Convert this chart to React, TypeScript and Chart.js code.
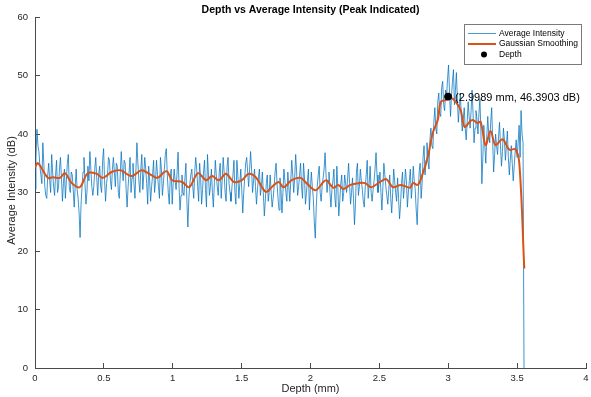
import React, { useEffect, useRef } from "react";
import { Chart, registerables } from "chart.js";

Chart.register(...registerables);

// ---------- data ----------
const DEPTH_STEP_MM = 3.55 / 499; // sampling step of the raw profile

const rawIntensity: number[] = [
  30.5, 36, 40.8, 38, 37, 34.5, 33, 31.5, 38.5, 35, 31, 29.5, 29, 33, 35, 32, 30, 36.5, 33.5, 31,
  29.5, 33, 35.5, 30, 31, 34, 36, 32.5, 28.5, 31.5, 34, 29, 32, 35, 36.5, 31, 30, 33.5, 33, 30.5,
  27.5, 31, 34, 30.5, 29, 26.5, 22.3, 28, 31, 33.5, 36, 31.5, 28, 30, 34.5, 32, 37, 34, 31, 29.5,
  31, 34, 36, 32.5, 29.5, 33, 34.5, 31, 30, 35.5, 37.5, 32, 28.5, 31.5, 33, 36, 35.5, 32, 30.5, 34,
  36, 33.5, 31, 35, 34.5, 30, 29, 33, 37, 34, 32, 35.5, 35, 30.5, 27.5, 31, 33.5, 36, 30, 32.5,
  35, 31.5, 29, 34, 38.5, 35, 32, 30, 34, 36.5, 30.5, 33, 36, 34, 31.5, 28, 34.5, 32, 28.5, 31,
  33, 35.5, 30, 32, 35.5, 33, 31, 29, 36, 34, 29.5, 31.5, 34, 36.5, 37.5, 33, 30, 28, 32.5, 34,
  28, 31.5, 34, 32, 30.5, 33.5, 36.9, 31, 27, 29.5, 33, 30, 29.5, 32.5, 35, 28.5, 24.1, 29, 31.5, 33,
  34, 31, 29, 33.5, 36, 34, 31, 28.5, 35, 32.5, 28, 30.5, 33.5, 35.5, 30.5, 27.5, 36.5, 33, 29.5, 31,
  34, 30, 27.5, 31.5, 35.5, 33, 31, 29.5, 33.5, 35, 29, 32, 36, 33.5, 30, 28.5, 34.5, 36, 31.5, 30,
  28.5, 31, 33, 35.5, 30, 28, 35.5, 33, 29, 31.5, 34, 30.5, 26.5, 30, 32.5, 35, 36, 33.5, 31, 34,
  37, 34, 30, 32, 34, 31, 28, 30.5, 32.5, 34, 29.5, 31, 33.5, 30, 26, 28.5, 31.5, 33, 28.5, 30,
  33, 30, 27.5, 29, 31, 33.5, 35, 31.5, 29, 27, 32.5, 30.5, 26.5, 30, 34, 32, 30, 28.5, 33.5, 31,
  28.5, 32, 35.5, 33, 30, 32.5, 36.5, 33.5, 29.5, 31, 33, 35, 31, 29, 35, 32.5, 28, 30, 32, 34,
  27, 30.5, 33.5, 31, 29, 25, 22.2, 27.5, 31, 33, 34.5, 30, 28.5, 31, 32.5, 34, 36.8, 33, 30, 32,
  33.5, 30, 27.5, 30.5, 32, 34, 29, 27.5, 34.5, 31, 26, 28.5, 31.5, 33, 28.5, 30, 33, 31.5, 30, 32.5,
  35, 31.5, 28, 30, 32.5, 29, 24.5, 28, 33.5, 35, 29.5, 31, 34, 32, 30.5, 28.5, 27.5, 31, 33, 35.5,
  29, 31.5, 34.5, 30, 28.5, 30.5, 32, 34, 36.8, 33, 30, 31.5, 33.5, 30, 27, 31, 35, 33, 31, 29.5,
  28, 30.5, 33, 29, 26.5, 30, 34, 32, 30, 28.5, 32.5, 29, 25.5, 28, 31.5, 33.5, 29, 31, 34, 32,
  27.5, 30, 32, 34, 29, 31, 34.5, 32, 30.5, 27, 24.5, 29.5, 33.5, 35, 29, 31.5, 36, 38, 33, 35.5,
  38.5, 35.5, 34, 39, 41, 38, 37.5, 42, 44.5, 41, 40, 45.5, 47, 43.5, 43, 48, 49, 45, 44, 47.5,
  46.4, 49.5, 51.8, 47, 43, 46.5, 49, 51, 45, 47.5, 50.5, 46, 42, 44.5, 47, 43, 40.5, 42.5, 44.5, 41,
  39, 42, 45.5, 43, 41, 44, 47.5, 43.5, 38.5, 41, 44, 42.5, 40, 43.5, 46, 40.5, 31.5, 36, 41.5, 38,
  35, 39.5, 43, 40, 38.5, 42, 44.5, 39, 33.5, 36.5, 40, 38, 36.5, 39.5, 42, 38, 34.5, 37, 41, 39,
  35.5, 38, 40.5, 36, 33, 35.5, 38, 35, 32, 34.5, 37, 39, 36, 38.5, 41.5, 36, 44, 40, 38.5, 0,
];

const smoothDepth: number[] = [
  0.0, 0.022, 0.094, 0.13, 0.181, 0.217, 0.267, 0.325, 0.383, 0.448,
  0.491, 0.556, 0.621, 0.7, 0.773, 0.83, 0.888, 0.939, 0.96, 0.996,
  1.069, 1.119, 1.184, 1.242, 1.285, 1.336, 1.386, 1.444, 1.502, 1.552,
  1.603, 1.675, 1.718, 1.769, 1.805, 1.863, 1.928, 1.971, 2.036, 2.094,
  2.116, 2.166, 2.202, 2.238, 2.289, 2.347, 2.397, 2.44, 2.505, 2.549,
  2.599, 2.657, 2.722, 2.744, 2.78, 2.816, 2.852, 2.888, 2.924, 2.946,
  2.982, 3.018, 3.054, 3.09, 3.119, 3.155, 3.177, 3.213, 3.235, 3.271,
  3.307, 3.343, 3.394, 3.444, 3.487, 3.516, 3.552,
];

const smoothIntensity: number[] = [
  34.3, 35.0, 32.5, 32.6, 32.5, 33.3, 31.6, 30.9, 33.3, 33.2,
  32.5, 33.5, 33.8, 32.8, 33.8, 33.2, 32.5, 33.5, 33.6, 32.1,
  31.8, 30.9, 33.3, 32.1, 32.8, 32.1, 33.2, 31.8, 32.1, 33.2,
  32.6, 30.1, 30.9, 31.8, 30.9, 32.1, 32.5, 31.6, 30.4, 31.8,
  32.1, 30.8, 31.3, 30.6, 31.3, 31.6, 31.6, 30.9, 31.8, 32.3,
  30.9, 31.3, 30.8, 31.6, 31.3, 33.3, 36.1, 40.2, 42.4, 45.5,
  45.8, 46.2, 45.5, 44.1, 41.2, 42.1, 42.4, 41.9, 42.1, 38.1,
  40.5, 38.1, 39.1, 37.3, 37.4, 35.0, 17.0,
];

const peakDepth = 2.9989;
const peakIntensity = 46.3903;

const xTickValues = [0, 0.5, 1, 1.5, 2, 2.5, 3, 3.5, 4];
const yTickValues = [0, 10, 20, 30, 40, 50, 60];

const TITLE = "Depth vs Average Intensity (Peak Indicated)";
const X_LABEL = "Depth (mm)";
const Y_LABEL = "Average Intensity (dB)";
const LEGEND_LABELS = ["Average Intensity", "Gaussian Smoothing", "Depth"];
const PEAK_LABEL = `(${peakDepth.toFixed(4)} mm, ${peakIntensity.toFixed(4)} dB)`;

// ---------- styles ----------
const FONT = '"Liberation Sans", Arial, Helvetica, sans-serif';
const BLUE = "#0072BD";
const ORANGE = "#D95319";
const AXIS = "#4a4a4a";
const TEXT = "#262626";

const overlayPlugin = {
  id: "overlay",
  afterDraw(chart: any) {
    const { ctx, chartArea, scales } = chart;
    ctx.save();
    const cx = (chartArea.left + chartArea.right) / 2;
    ctx.textAlign = "center";
    ctx.textBaseline = "middle";
    ctx.fillStyle = "#000";
    ctx.font = `bold 10.5px ${FONT}`;
    ctx.fillText(TITLE, cx, 10);

    ctx.fillStyle = TEXT;
    ctx.font = `11px ${FONT}`;
    ctx.fillText(X_LABEL, cx, 389);

    ctx.save();
    ctx.translate(12, (chartArea.top + chartArea.bottom) / 2 - 2);
    ctx.rotate(-Math.PI / 2);
    ctx.fillText(Y_LABEL, 0, 0);
    ctx.restore();

    // peak annotation
    const px = scales.x.getPixelForValue(peakDepth);
    const py = scales.y.getPixelForValue(peakIntensity);
    ctx.textAlign = "left";
    ctx.fillStyle = "#000";
    ctx.font = `11px ${FONT}`;
    ctx.fillText(PEAK_LABEL, px + 7, py + 1);

    // legend
    const bx = 464, by = 24, bw = 117, bh = 40;
    ctx.fillStyle = "#fff";
    ctx.fillRect(bx, by, bw, bh);
    ctx.strokeStyle = "#7a7a7a";
    ctx.lineWidth = 1;
    ctx.strokeRect(bx + 0.5, by + 0.5, bw, bh);
    const rows = [33.5, 44, 54.5];
    ctx.font = `8.5px ${FONT}`;
    ctx.textBaseline = "middle";
    // row 1: thin blue line
    ctx.strokeStyle = "#4a9bd4";
    ctx.lineWidth = 1;
    ctx.beginPath();
    ctx.moveTo(468, rows[0]);
    ctx.lineTo(496, rows[0]);
    ctx.stroke();
    // row 2: thick orange line
    ctx.strokeStyle = ORANGE;
    ctx.lineWidth = 2;
    ctx.beginPath();
    ctx.moveTo(468, rows[1]);
    ctx.lineTo(496, rows[1]);
    ctx.stroke();
    // row 3: black dot
    ctx.fillStyle = "#000";
    ctx.beginPath();
    ctx.arc(484, rows[2], 3, 0, Math.PI * 2);
    ctx.fill();
    LEGEND_LABELS.forEach((t, i) => ctx.fillText(t, 499, rows[i]));
    ctx.restore();
  },
};

export default function App() {
  const canvasRef = useRef<HTMLCanvasElement | null>(null);

  useEffect(() => {
    const canvas = canvasRef.current;
    if (!canvas) return;
    const rawPoints = rawIntensity.map((v, i) => ({ x: i * DEPTH_STEP_MM, y: v }));
    const smoothPoints = smoothDepth.map((d, i) => ({ x: d, y: smoothIntensity[i] }));

    const chart = new Chart(canvas, {
      type: "line",
      data: {
        datasets: [
          {
            label: LEGEND_LABELS[2],
            type: "scatter",
            data: [{ x: peakDepth, y: peakIntensity }],
            backgroundColor: "#000",
            borderColor: "#000",
            pointRadius: 3.5,
            order: 0,
          } as any,
          {
            label: LEGEND_LABELS[1],
            data: smoothPoints,
            borderColor: ORANGE,
            borderWidth: 2,
            pointRadius: 0,
            tension: 0.35,
            fill: false,
            order: 1,
          },
          {
            label: LEGEND_LABELS[0],
            data: rawPoints,
            borderColor: BLUE,
            borderWidth: 0.75,
            pointRadius: 0,
            tension: 0,
            fill: false,
            order: 2,
          },
        ],
      },
      options: {
        animation: false,
        responsive: false,
        devicePixelRatio: 1,
        layout: { padding: { top: 17, right: 2, left: 0, bottom: 0 } },
        plugins: {
          legend: { display: false },
          title: { display: false },
          tooltip: { enabled: false },
        },
        scales: {
          x: {
            type: "linear",
            min: 0,
            max: 4,
            afterBuildTicks: (s: any) => {
              s.ticks = xTickValues.map((v) => ({ value: v }));
            },
            afterFit: (s: any) => {
              s.height = 29;
              s.paddingLeft = 0;
              s.paddingRight = 0;
            },
            border: { display: true, color: AXIS, width: 1 },
            grid: {
              display: true,
              drawOnChartArea: false,
              drawTicks: true,
              tickLength: -5,
              color: AXIS,
            },
            ticks: {
              color: TEXT,
              font: { family: FONT, size: 9.5 },
              padding: 10,
              maxRotation: 0,
              autoSkip: false,
              callback: (v: any) => String(v),
            },
          },
          y: {
            type: "linear",
            min: 0,
            max: 60,
            afterBuildTicks: (s: any) => {
              s.ticks = yTickValues.map((v) => ({ value: v }));
            },
            afterFit: (s: any) => {
              s.width = 35;
              s.paddingTop = 0;
              s.paddingBottom = 0;
            },
            border: { display: true, color: AXIS, width: 1 },
            grid: {
              display: true,
              drawOnChartArea: false,
              drawTicks: true,
              tickLength: -5,
              color: AXIS,
            },
            ticks: {
              color: TEXT,
              font: { family: FONT, size: 9.5 },
              padding: 12,
              autoSkip: false,
              callback: (v: any) => String(v),
            },
          },
        },
      },
      plugins: [overlayPlugin],
    });
    return () => chart.destroy();
  }, []);

  return (
    <div style={{ position: "fixed", left: 0, top: 0, width: 591, height: 397, background: "#fff" }}>
      <canvas ref={canvasRef} width={591} height={397} style={{ display: "block", width: 591, height: 397 }} />
    </div>
  );
}
